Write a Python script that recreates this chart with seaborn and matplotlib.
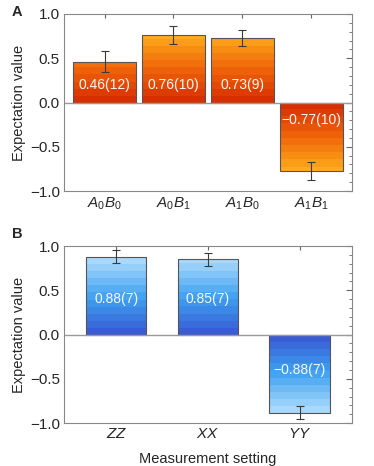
import numpy as np
import pandas as pd
import matplotlib
matplotlib.use("Agg")
import matplotlib.pyplot as plt
from matplotlib.colors import LinearSegmentedColormap
from matplotlib.ticker import MultipleLocator
import seaborn as sns

# Panel A data
settings_a = [r"$A_0B_0$", r"$A_0B_1$", r"$A_1B_0$", r"$A_1B_1$"]
values_a = [0.46, 0.76, 0.73, -0.77]
errors_a = [0.12, 0.10, 0.09, 0.10]
labels_a = ["0.46(12)", "0.76(10)", "0.73(9)", "\u22120.77(10)"]

# Panel B data
settings_b = [r"$ZZ$", r"$XX$", r"$YY$"]
values_b = [0.88, 0.85, -0.88]
errors_b = [0.07, 0.07, 0.07]
labels_b = ["0.88(7)", "0.85(7)", "\u22120.88(7)"]

sns.set_style("white")
plt.rcParams["font.family"] = ["Liberation Sans", "DejaVu Sans"]
plt.rcParams["mathtext.fontset"] = "custom"
plt.rcParams["mathtext.rm"] = "Liberation Sans"
plt.rcParams["mathtext.it"] = "Liberation Sans:italic"

orange = LinearSegmentedColormap.from_list(
    "orange", [(0.0, "#d42a00"), (0.5, "#f2680a"), (1.0, "#ffb41e")])
blue = LinearSegmentedColormap.from_list(
    "blue", [(0.0, "#3a56d2"), (0.45, "#3c9ff0"), (1.0, "#b8e2ff")])


def gradient_bars(ax, cmap, vmax):
    # stepped fill, one band per 0.08 of the value axis
    step = 0.08
    for patch in ax.patches:
        x0 = patch.get_x()
        w = patch.get_width()
        h = patch.get_height()
        n = int(np.ceil(abs(h) / step))
        centers = (np.arange(n) + 0.5) * step
        arr = np.clip(centers / vmax, 0, 1).reshape(-1, 1)
        top = np.sign(h) * n * step
        im = ax.imshow(arr, cmap=cmap, vmin=0, vmax=1, aspect="auto",
                       origin="lower", extent=(x0, x0 + w, 0, top),
                       interpolation="nearest", zorder=1)
        im.set_clip_path(patch)
        patch.set_facecolor("none")
        patch.set_edgecolor("#555555")
        patch.set_linewidth(0.8)
        patch.set_zorder(2)


def draw_panel(ax, cats, vals, errs, labs, cmap, vmax, width, label_y, xlim):
    df = pd.DataFrame({"setting": cats, "value": vals})
    sns.barplot(data=df, x="setting", y="value", ax=ax, width=width,
                color="white", errorbar=None)
    gradient_bars(ax, cmap, vmax)
    xs = np.arange(len(cats))
    ax.errorbar(xs, vals, yerr=errs, fmt="none", ecolor="#3a3a3a",
                elinewidth=0.8, capsize=3, capthick=0.8, zorder=3)
    for x, v, t in zip(xs, vals, labs):
        ax.text(x, np.sign(v) * label_y, t, ha="center", va="center",
                color="#f8f8f8", fontsize=10, zorder=4)
    ax.axhline(0, color="#999999", lw=1.0, zorder=2.5)
    ax.set_xlim(*xlim)
    ax.set_ylim(-1, 1)
    ax.yaxis.set_minor_locator(MultipleLocator(0.1))
    ax.set_yticks([-1, -0.5, 0, 0.5, 1])
    ax.set_yticklabels(["\u22121.0", "\u22120.5", "0.0", "0.5", "1.0"])
    ax.tick_params(axis="both", which="both", direction="in", color="#666666",
                   top=True, right=True, labelsize=11, pad=3)
    ax.tick_params(axis="y", which="major", length=4)
    ax.tick_params(axis="y", which="minor", length=2)
    ax.tick_params(axis="x", which="major", length=3, labelsize=11)
    ax.set_ylabel("Expectation value", fontsize=10.5, labelpad=3)
    ax.set_xlabel("")
    for s in ax.spines.values():
        s.set_color("#888888")
        s.set_linewidth(0.8)


fig = plt.figure(figsize=(3.74, 4.66), dpi=100)
ax_a = fig.add_axes([0.171, 0.590, 0.770, 0.380])
ax_b = fig.add_axes([0.171, 0.092, 0.770, 0.380])

draw_panel(ax_a, settings_a, values_a, errors_a, labels_a, orange, 0.8,
           0.91, 0.2, (-0.59, 3.59))
draw_panel(ax_b, settings_b, values_b, errors_b, labels_b, blue, 0.9,
           0.66, 0.4, (-0.57, 2.57))
ax_b.set_xlabel("Measurement setting", fontsize=10.5, labelpad=8)

fig.text(0.032, 0.975, "A", fontsize=10.5, fontweight="bold", va="center")
fig.text(0.032, 0.497, "B", fontsize=10.5, fontweight="bold", va="center")

fig.savefig("out.png", dpi=100)
